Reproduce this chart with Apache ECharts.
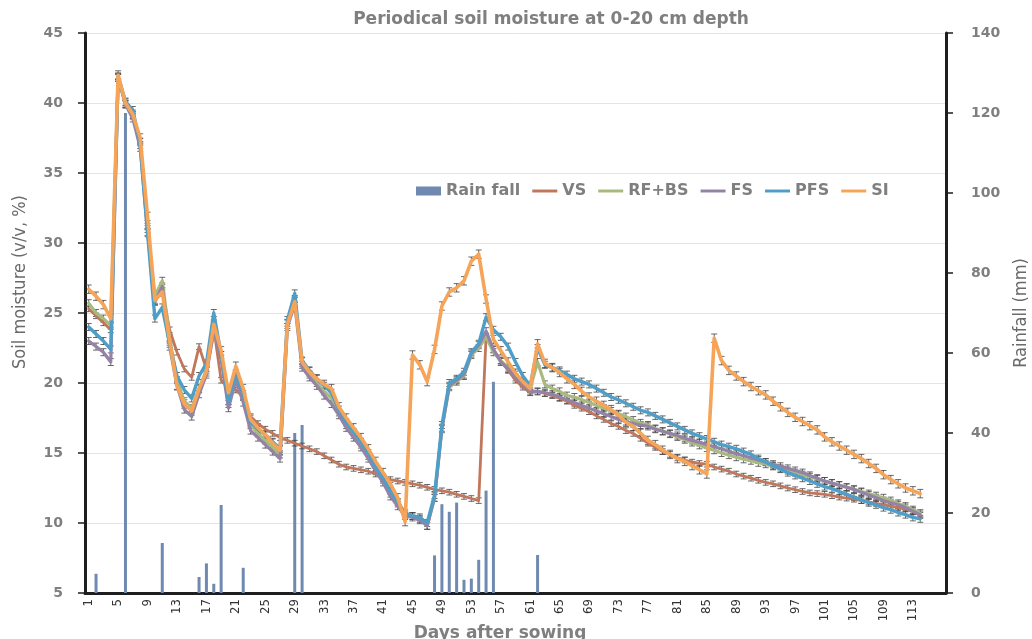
<!DOCTYPE html>
<html>
<head>
<meta charset="utf-8">
<script src="https://cdn.jsdelivr.net/npm/echarts@6/dist/echarts.min.js"></script>
<style>
  html, body { margin: 0; padding: 0; background: #ffffff; }
  #chart { width: 1032px; height: 639px; }
</style>
</head>
<body>
<div id="chart"></div>
<script>
// Days after sowing shown on the category axis
const DAYS = [
  1,2,3,4,5,6,7,8,9,10,11,12,13,14,15,16,17,18,19,20,
  21,22,23,24,25,26,27,28,29,30,31,32,33,34,35,36,37,38,39,40,
  41,42,43,44,45,46,47,48,49,50,51,52,53,54,55,56,57,58,59,60,
  61,62,63,64,65,66,67,68,69,70,71,72,73,74,75,76,77,78,79,80,
  81,82,83,84,85,86,87,88,89,90,91,92,93,94,95,96,97,98,99,100,
  101,102,103,104,105,106,107,108,109,110,111,112,113,114,115,116,117
];

// Rainfall events: [day, mm]
const RAIN = [
  [2, 4.8], [6, 120], [11, 12.5], [16, 4], [17, 7.4], [18, 2.3], [19, 22],
  [22, 6.3], [29, 40], [30, 42], [48, 9.4], [49, 22.2], [50, 20.3],
  [51, 22.6], [52, 3.3], [53, 3.6], [54, 8.3], [55, 25.6], [56, 52.8], [62, 9.5]
];

// Soil moisture (v/v, %) per treatment, day 1 to day 114
const VS = [
  25.3, 24.8, 24.3, 23.8, 41.9, 40.0, 39.2, 37.3, 31.2, 25.9, 26.6,
  23.8, 22.2, 21.0, 20.4, 22.6, 21.0, 23.9,
  20.2, 19.6, 19.5, 19.0, 17.6, 17.1, 16.7, 16.4, 16.1,
  15.9, 15.7, 15.5, 15.3, 15.1, 14.8, 14.5, 14.2,
  14.0, 13.9, 13.8, 13.7, 13.5, 13.3, 13.1, 13.0, 12.9,
  12.8, 12.7, 12.55, 12.4, 12.3, 12.2, 12.05, 11.9, 11.75, 11.6,
  23.3, 22.4, 21.6, 20.9, 20.2, 19.7, 19.3,
  19.4, 19.25, 19.1, 18.9, 18.7, 18.4, 18.2, 17.95, 17.65, 17.4,
  17.1, 16.9, 16.6, 16.4, 16.05, 15.7, 15.4, 15.1, 14.9, 14.65, 14.5, 14.35, 14.25, 14.2,
  14.0, 13.85, 13.7, 13.5, 13.35, 13.2, 13.05, 12.9, 12.8, 12.65, 12.5, 12.38, 12.25, 12.15, 12.1,
  12.05, 11.95, 11.85, 11.78, 11.7, 11.6, 11.5, 11.4, 11.3, 11.2, 11.1, 11.0, 10.8, 10.55
];
const RF_BS = [
  25.7, 25.0, 24.6, 24.1, 41.8, 39.9, 39.1, 37.2, 31.0, 26.2, 27.3,
  23.2, 20.2, 18.7, 18.2, 19.6, 20.9, 23.6,
  22.0, 18.5, 20.5, 19.0, 17.0, 16.4, 15.9, 15.4, 14.9,
  24.3, 26.0, 21.3, 20.6, 20.0, 19.4, 18.9, 17.9,
  17.0, 16.3, 15.6, 14.8, 13.9, 13.1, 12.1, 11.4, 10.6,
  10.5, 10.3, 9.8, 11.8, 16.8, 19.7, 20.1, 20.5, 22.0, 22.5,
  23.3, 22.2, 21.6, 21.1, 20.6, 20.0, 19.6,
  21.5, 19.9, 19.6, 19.4, 19.1, 19.0, 18.8, 18.6, 18.4, 18.2,
  18.0, 17.8, 17.6, 17.35, 17.15, 17.0, 16.75, 16.55, 16.35, 16.15, 15.95, 15.75, 15.55, 15.35,
  15.2, 15.0, 14.85, 14.7, 14.55, 14.45, 14.3, 14.2, 14.05, 13.9, 13.75, 13.6, 13.45, 13.3, 13.15,
  13.0, 12.85, 12.7, 12.55, 12.4, 12.25, 12.1, 11.95, 11.8, 11.6, 11.4, 11.2, 10.95, 10.7
];
const FS = [
  23.0, 22.6, 22.2, 21.5, 41.8, 39.9, 38.9, 36.8, 30.8, 25.8, 26.9,
  22.6, 19.8, 18.1, 17.6, 19.2, 20.6, 23.8,
  21.7, 18.2, 20.2, 18.6, 16.6, 16.1, 15.6, 15.1, 14.6,
  24.0, 25.6, 21.1, 20.4, 19.8, 19.1, 18.5, 17.7,
  16.8, 16.1, 15.4, 14.6, 13.7, 12.9, 11.9, 11.2, 10.5,
  10.4, 10.2, 9.8, 11.8, 16.7, 19.8, 20.2, 20.6, 22.1, 22.7,
  23.7, 22.4, 21.5, 21.0, 20.4, 19.9, 19.4,
  19.4, 19.3, 19.2, 19.0, 18.8, 18.6, 18.4, 18.2, 18.0, 17.8,
  17.6, 17.4, 17.25, 17.1, 17.0, 16.9, 16.7, 16.55, 16.4, 16.25, 16.05, 15.9, 15.75, 15.6,
  15.45, 15.3, 15.1, 14.95, 14.8, 14.65, 14.5, 14.35, 14.2, 14.05, 13.9, 13.75, 13.6, 13.4, 13.2,
  13.0, 12.85, 12.7, 12.55, 12.4, 12.2, 12.0, 11.8, 11.6, 11.45, 11.3, 11.1, 10.85, 10.6
];
const PFS = [
  24.0, 23.5, 23.0, 22.4, 41.9, 40.1, 39.5, 37.0, 30.7, 24.6, 25.4,
  22.8, 20.5, 19.5, 18.9, 20.5, 21.4, 25.0,
  22.0, 18.7, 20.7, 19.2, 17.2, 16.7, 16.3, 15.8, 15.3,
  24.5, 26.4, 21.6, 20.9, 20.3, 19.8, 19.3, 18.1,
  17.2, 16.5, 15.8, 15.0, 14.0, 13.2, 12.3, 11.5, 10.7,
  10.5, 10.4, 10.0, 12.0, 17.0, 20.0, 20.3, 20.8, 22.2, 22.8,
  24.7, 23.8, 23.3, 22.6, 21.5, 20.5, 19.8,
  22.5, 21.3, 21.1, 20.9, 20.6, 20.3, 20.1, 19.9, 19.6, 19.3,
  19.0, 18.8, 18.55, 18.3, 18.05, 17.9, 17.65, 17.4, 17.15, 16.9, 16.65, 16.4, 16.2, 16.0,
  15.8, 15.6, 15.45, 15.3, 15.1, 14.9, 14.6, 14.35, 14.1, 13.85, 13.6, 13.4, 13.2, 13.0, 12.8,
  12.6, 12.45, 12.25, 12.05, 11.85, 11.65, 11.45, 11.3, 11.1, 10.95, 10.75, 10.6, 10.4, 10.3
];
const SI = [
  26.7, 26.2, 25.6, 24.6, 42.0, 40.0, 39.2, 37.5, 31.9, 25.9, 26.5,
  23.0, 19.8, 18.5, 18.0, 19.6, 20.8, 24.2,
  22.3, 19.3, 21.2, 19.6, 17.4, 16.8, 16.3, 15.7, 15.2,
  24.2, 25.8, 21.5, 20.8, 20.3, 19.9, 19.6, 18.3,
  17.5, 16.8, 16.1, 15.3, 14.4, 13.6, 12.8, 11.8, 10.1,
  22.0, 21.3, 20.1, 22.4, 25.5, 26.5, 26.8, 27.3, 28.7, 29.2,
  26.0, 23.1, 22.3, 21.5, 20.7, 20.1, 19.6,
  22.8, 21.4, 21.1, 20.75, 20.3, 19.9, 19.4, 19.0, 18.7, 18.4,
  18.1, 17.7, 17.2, 16.9, 16.4, 15.9, 15.6, 15.2, 14.9, 14.6, 14.4, 14.1, 13.8, 13.5,
  23.2, 21.6, 20.9, 20.5, 20.1, 19.75, 19.45, 19.15, 18.7, 18.3, 17.9, 17.55, 17.25, 16.95, 16.65,
  16.15, 15.8, 15.5, 15.2, 14.9, 14.6, 14.25, 13.9, 13.45, 13.1, 12.8, 12.5, 12.3, 12.1
];

// Half-width of the error bars (v/v, %) for each treatment
const ERR = { 'VS': 0.2, 'RF+BS': 0.25, 'FS': 0.25, 'PFS': 0.25, 'SI': 0.3 };

// Axis ticks
const LEFT_TICKS = [5, 10, 15, 20, 25, 30, 35, 40, 45];
const RIGHT_TICKS = [0, 20, 40, 60, 80, 100, 120, 140];

const COLORS = {
  'Rain fall': '#6f89b0',
  'VS': '#c0775c',
  'RF+BS': '#a9ba7e',
  'FS': '#9483a6',
  'PFS': '#4f9ec8',
  'SI': '#f5a458'
};

const rainByDay = DAYS.map(d => {
  const r = RAIN.find(p => p[0] === d);
  return r ? r[1] : null;
});

const GRAY = '#7f7f7f';
const AXIS_BLACK = '#1e1e1e';
const BOLD_FONT = "'DejaVu Sans', Verdana, sans-serif";
const NARROW_FONT = "'Liberation Sans Narrow', 'DejaVu Sans Condensed', 'Arial Narrow', sans-serif";
// thin horizontal bar used as the legend mark of a line series
const LINE_ICON = 'path://M0,0L22,0L22,2.6L0,2.6Z';

function lineSeries(name, values, width) {
  return {
    type: 'line',
    name: name,
    data: values,
    yAxisIndex: 0,
    symbol: 'none',
    smooth: false,
    z: 3,
    lineStyle: { color: COLORS[name], width: width, cap: 'round', join: 'round' },
    itemStyle: { color: COLORS[name] }
  };
}

function errorSeries(name, values) {
  const e = ERR[name];
  return {
    type: 'custom',
    name: name + ' error',
    yAxisIndex: 0,
    z: 3,
    silent: true,
    data: values.map((v, i) => [i, v - e, v + e]),
    encode: { x: 0, y: [1, 2] },
    renderItem: function (params, api) {
      const i = api.value(0);
      const lo = api.coord([i, api.value(1)]);
      const hi = api.coord([i, api.value(2)]);
      const w = 3;
      const st = { stroke: 'rgba(70,70,70,0.8)', lineWidth: 1 };
      return {
        type: 'group',
        children: [
          { type: 'line', shape: { x1: lo[0], y1: lo[1], x2: hi[0], y2: hi[1] }, style: st },
          { type: 'line', shape: { x1: lo[0] - w, y1: lo[1], x2: lo[0] + w, y2: lo[1] }, style: st },
          { type: 'line', shape: { x1: hi[0] - w, y1: hi[1], x2: hi[0] + w, y2: hi[1] }, style: st }
        ]
      };
    }
  };
}

const chart = echarts.init(document.getElementById('chart'), null, { renderer: 'canvas' });

chart.setOption({
  animation: false,
  backgroundColor: '#ffffff',
  grid: { left: 85, right: 86, top: 33, bottom: 46, containLabel: false },
  legend: {
    left: 411,
    top: 178,
    itemWidth: 25,
    itemHeight: 9,
    itemGap: 12,
    data: [
      { name: 'Rain fall', icon: 'rect' },
      { name: 'VS', icon: LINE_ICON },
      { name: 'RF+BS', icon: LINE_ICON },
      { name: 'FS', icon: LINE_ICON },
      { name: 'PFS', icon: LINE_ICON },
      { name: 'SI', icon: LINE_ICON }
    ],
    textStyle: { fontFamily: BOLD_FONT, fontWeight: 'bold', fontSize: 16, color: GRAY }
  },
  xAxis: {
    type: 'category',
    data: DAYS,
    boundaryGap: true,
    axisLine: { show: true, onZero: false, lineStyle: { color: AXIS_BLACK, width: 3 } },
    axisTick: { show: false },
    splitLine: { show: false },
    axisLabel: {
      interval: function (index) { return index % 4 === 0 && index <= 112; },
      rotate: 90,
      margin: 6,
      fontFamily: NARROW_FONT,
      fontSize: 13,
      color: '#333333'
    }
  },
  yAxis: [
    {
      type: 'value',
      position: 'left',
      min: LEFT_TICKS[0],
      max: LEFT_TICKS[LEFT_TICKS.length - 1],
      interval: LEFT_TICKS[1] - LEFT_TICKS[0],
      axisLine: { show: true, lineStyle: { color: AXIS_BLACK, width: 3 } },
      axisTick: { show: true, length: 7, lineStyle: { color: AXIS_BLACK, width: 1.5 } },
      splitLine: { show: true, lineStyle: { color: '#e4e4e4', width: 1 } },
      axisLabel: {
        margin: 22,
        fontFamily: BOLD_FONT,
        fontWeight: 'bold',
        fontSize: 14,
        color: GRAY
      }
    },
    {
      type: 'value',
      position: 'right',
      min: RIGHT_TICKS[0],
      max: RIGHT_TICKS[RIGHT_TICKS.length - 1],
      interval: RIGHT_TICKS[1] - RIGHT_TICKS[0],
      axisLine: { show: true, lineStyle: { color: AXIS_BLACK, width: 3 } },
      axisTick: { show: true, length: 7, lineStyle: { color: AXIS_BLACK, width: 1.5 } },
      splitLine: { show: false },
      axisLabel: {
        margin: 25,
        fontFamily: BOLD_FONT,
        fontWeight: 'bold',
        fontSize: 14,
        color: GRAY
      }
    }
  ],
  graphic: [
    {
      type: 'text',
      x: 551, y: 20,
      style: {
        text: 'Periodical soil moisture at 0-20 cm depth',
        font: "bold 17px " + BOLD_FONT,
        fill: GRAY,
        align: 'center',
        verticalAlign: 'middle'
      }
    },
    {
      type: 'text',
      x: 20, y: 282,
      rotation: Math.PI / 2,
      style: {
        text: 'Soil moisture (v/v, %)',
        font: "18px " + NARROW_FONT,
        fill: '#6a6a6a',
        align: 'center',
        verticalAlign: 'middle'
      }
    },
    {
      type: 'text',
      x: 1021, y: 313,
      rotation: Math.PI / 2,
      style: {
        text: 'Rainfall (mm)',
        font: "18px " + NARROW_FONT,
        fill: '#6a6a6a',
        align: 'center',
        verticalAlign: 'middle'
      }
    },
    {
      type: 'text',
      x: 500, y: 634,
      style: {
        text: 'Days after sowing',
        font: "bold 17px " + BOLD_FONT,
        fill: GRAY,
        align: 'center',
        verticalAlign: 'middle'
      }
    }
  ],
  series: [
    {
      type: 'bar',
      name: 'Rain fall',
      yAxisIndex: 1,
      data: rainByDay,
      barWidth: 3,
      z: 2,
      itemStyle: { color: COLORS['Rain fall'] }
    },
    lineSeries('VS', VS, 2.8),
    errorSeries('VS', VS),
    lineSeries('RF+BS', RF_BS, 3.2),
    errorSeries('RF+BS', RF_BS),
    lineSeries('FS', FS, 3.2),
    errorSeries('FS', FS),
    lineSeries('PFS', PFS, 3.4),
    errorSeries('PFS', PFS),
    lineSeries('SI', SI, 3.6),
    errorSeries('SI', SI)
  ]
});
</script>
</body>
</html>
